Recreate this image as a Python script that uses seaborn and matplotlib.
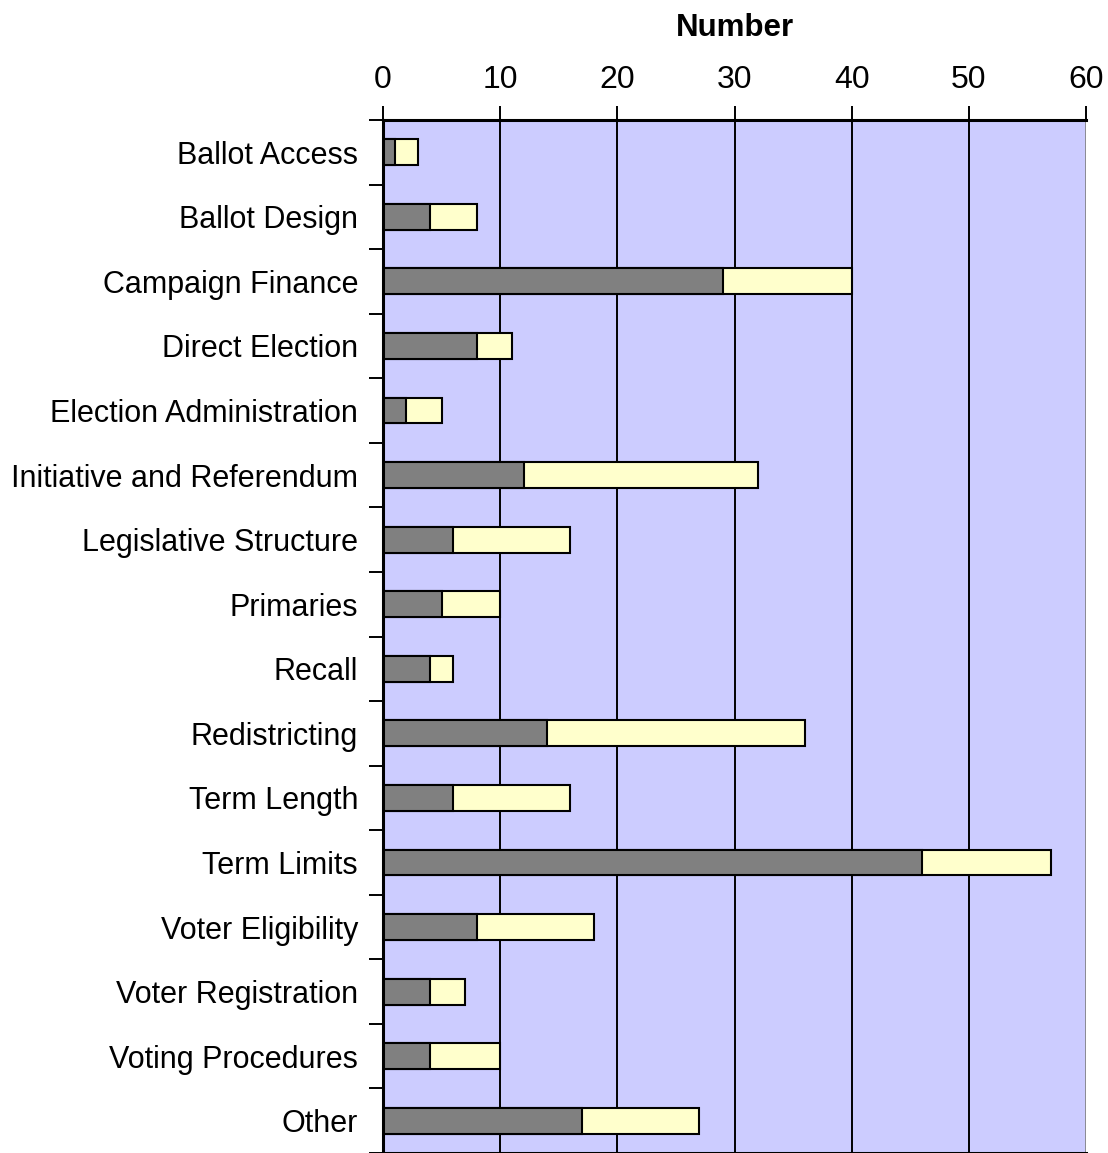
import matplotlib
matplotlib.use("Agg")
import matplotlib.pyplot as plt
from matplotlib.ticker import FixedLocator, NullFormatter
import pandas as pd
import seaborn as sns

# Number of measures by subject: first segment and second segment of each stacked bar
categories = [
    "Ballot Access", "Ballot Design", "Campaign Finance", "Direct Election",
    "Election Administration", "Initiative and Referendum", "Legislative Structure",
    "Primaries", "Recall", "Redistricting", "Term Length", "Term Limits",
    "Voter Eligibility", "Voter Registration", "Voting Procedures", "Other",
]
first_segment = [1, 4, 29, 8, 2, 12, 6, 5, 4, 14, 6, 46, 8, 4, 4, 17]
second_segment = [2, 4, 11, 3, 3, 20, 10, 5, 2, 22, 10, 11, 10, 3, 6, 10]
x_ticks = [0, 10, 20, 30, 40, 50, 60]

df = pd.DataFrame({
    "category": categories,
    "first": first_segment,
    "total": [a + b for a, b in zip(first_segment, second_segment)],
})

sns.set_theme(style="white")
plt.rcParams["font.family"] = ["Liberation Sans", "DejaVu Sans"]

fig = plt.figure(figsize=(11.08, 11.53), dpi=100)
ax = fig.add_axes([383 / 1108, 0.0, (1086 - 383) / 1108, 1 - 120 / 1153])
ax.set_facecolor("#CCCCFF")

# Vertical gridlines drawn beneath the bars
for xv in x_ticks[1:-1]:
    ax.axvline(xv, color="black", lw=1.4, zorder=0.5)
ax.axvline(60, color="#808080", lw=1.2, zorder=0.5)

bar_kws = dict(orient="h", width=0.4, edgecolor="black", linewidth=1.5, ax=ax, zorder=2)
sns.barplot(data=df, x="total", y="category", color="#FFFFCC", saturation=1, **bar_kws)
sns.barplot(data=df, x="first", y="category", color="#808080", saturation=1, **bar_kws)

n = len(categories)
ax.set_xlim(0, 60)
ax.set_ylim(n - 0.5, -0.5)

# X axis along the top
ax.xaxis.set_ticks_position("top")
ax.xaxis.set_label_position("top")
ax.set_xticks(x_ticks)
ax.set_xticklabels([str(t) for t in x_ticks], fontsize=23)
ax.tick_params(axis="x", direction="out", length=10, width=1.4, color="black", pad=8)
ax.set_xlabel("Number", fontsize=22.5, fontweight="bold", labelpad=21, color="black")

# Category labels with tick marks between categories
ax.set_ylabel("")
ax.tick_params(axis="y", which="major", length=0, pad=18, labelsize=22)
ax.yaxis.set_minor_locator(FixedLocator([i - 0.5 for i in range(n + 1)]))
ax.yaxis.set_minor_formatter(NullFormatter())
ax.tick_params(axis="y", which="minor", direction="out", length=10, width=1.4, color="black", left=True)
for lbl in ax.get_yticklabels():
    lbl.set_color("black")
for lbl in ax.get_xticklabels():
    lbl.set_color("black")

for side in ("top", "left", "bottom"):
    ax.spines[side].set_visible(True)
    ax.spines[side].set_color("black")
    ax.spines[side].set_linewidth(2.2)
ax.spines["right"].set_visible(False)

fig.savefig("out.png", dpi=100)
